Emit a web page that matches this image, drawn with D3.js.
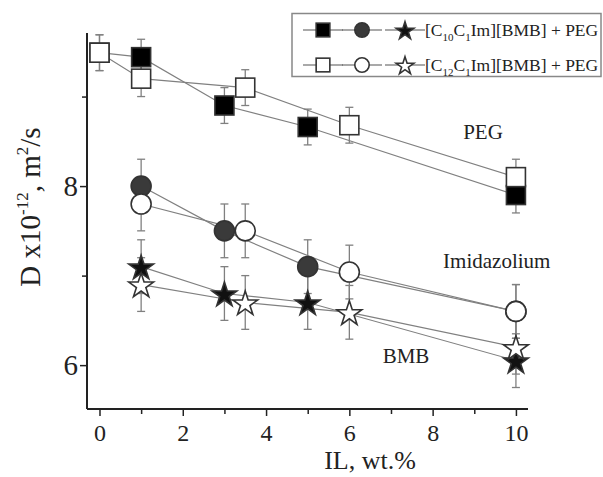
<!DOCTYPE html>
<html><head><meta charset="utf-8">
<script src="https://cdn.jsdelivr.net/npm/d3@7"></script>
<style>body{margin:0;background:#fff}svg{display:block}</style>
</head><body>
<script>
// ---- data ----
const xC10 = [0, 1, 3, 5, 10];
const xC12 = [0, 1, 3.5, 6, 10];
const xIL10 = [1, 3, 5, 10];
const xIL12 = [1, 3.5, 6, 10];
const pegC10 = [9.49, 9.44, 8.9, 8.66, 7.9];
const pegC12 = [9.49, 9.2, 9.1, 8.68, 8.1];
const pegErr = [0.2, 0.2, 0.2, 0.2, 0.2];
const imC10 = [8.0, 7.5, 7.1, 6.6];
const imC12 = [7.8, 7.5, 7.04, 6.6];
const imErr = [0.3, 0.3, 0.3, 0.3];
const bmbC10 = [7.1, 6.8, 6.7, 6.05];
const bmbC12 = [6.9, 6.7, 6.59, 6.2];
const bmbErr = [0.3, 0.3, 0.3, 0.3];
const xTicks = [0, 2, 4, 6, 8, 10];
const xMinor = [1, 3, 5, 7, 9];
const yTicks = [6, 8];
const yMinor = [7, 9];
const groupLabels = [
  {text: "PEG", x: 9.21, y: 8.53},
  {text: "Imidazolium", x: 9.54, y: 7.09},
  {text: "BMB", x: 7.36, y: 6.02}
];
const legendLabels = ["C10", "C12"];

const W = 603, H = 477;
const svg = d3.select("body").append("svg").attr("width", W).attr("height", H)
  .style("font-family", "'Liberation Serif','Times New Roman',serif");

const x = d3.scaleLinear().domain([-0.3, 10.29]).range([87, 528]);
const y = d3.scaleLinear().domain([5.51, 9.71]).range([409, 33]);

// axes
const axColor = "#222";
const gx = svg.append("g").attr("transform", `translate(0,${y(5.51)})`);
gx.call(d3.axisBottom(x).tickValues(xTicks).tickSize(7).tickPadding(8).tickFormat(d3.format("d")));
gx.append("g").call(d3.axisBottom(x).tickValues(xMinor).tickSize(5).tickFormat(""));
gx.selectAll(".domain").attr("stroke", axColor).attr("stroke-width", 2).attr("d", `M${x(-0.3)},0H${x(10.29)}`);
gx.selectAll(".tick line").attr("stroke", axColor).attr("stroke-width", 1.5);
gx.selectAll(".tick text").attr("font-size", 24).attr("fill", "#222").attr("font-family", "'Liberation Serif',serif");
gx.selectAll("g g .domain").remove();

const gy = svg.append("g").attr("transform", `translate(${x(-0.3)},0)`);
gy.call(d3.axisLeft(y).tickValues(yTicks).tickSize(7).tickPadding(2).tickFormat(d3.format("d")));
gy.append("g").call(d3.axisLeft(y).tickValues(yMinor).tickSize(5).tickFormat(""));
gy.selectAll(".domain").attr("stroke", axColor).attr("stroke-width", 2).attr("d", `M0,${y(5.51)}V${y(9.71)}`);
gy.selectAll(".tick line").attr("stroke", axColor).attr("stroke-width", 1.5);
gy.selectAll(".tick text").attr("font-size", 29).attr("fill", "#222").attr("font-family", "'Liberation Serif',serif");
gy.selectAll("g g .domain").remove();

// axis titles
svg.append("text").attr("x", 370).attr("y", 469).attr("text-anchor", "middle")
  .attr("font-size", 26).attr("fill", "#222").text("IL, wt.%");
const yl = svg.append("text").attr("transform", "translate(40,207) rotate(-90)")
  .attr("text-anchor", "middle").attr("font-size", 29).attr("fill", "#222");
yl.append("tspan").text("D x10");
yl.append("tspan").attr("dy", -12).attr("font-size", 17).text("-12");
yl.append("tspan").attr("dy", 12).text(", m");
yl.append("tspan").attr("dy", -12).attr("font-size", 17).text("2");
yl.append("tspan").attr("dy", 12).text("/s");

// series
const series = [
  {xs: xC10, ys: pegC10, err: pegErr, shape: "square", fill: "#000"},
  {xs: xC12, ys: pegC12, err: pegErr, shape: "square", fill: "#fff"},
  {xs: xIL10, ys: imC10, err: imErr, shape: "circle", fill: "#3a3a3a"},
  {xs: xIL12, ys: imC12, err: imErr, shape: "circle", fill: "#fff"},
  {xs: xIL10, ys: bmbC10, err: bmbErr, shape: "star", fill: "#111"},
  {xs: xIL12, ys: bmbC12, err: bmbErr, shape: "star", fill: "#fff"}
];
const line = d3.line().x(d => x(d[0])).y(d => y(d[1]));
const lineColor = "#808080";
series.forEach(s => {
  const pts = s.xs.map((v, i) => [v, s.ys[i], s.err[i]]);
  svg.append("path").attr("d", line(pts)).attr("fill", "none").attr("stroke", lineColor).attr("stroke-width", 1.2);
});
series.forEach(s => {
  const pts = s.xs.map((v, i) => [v, s.ys[i], s.err[i]]);
  const g = svg.append("g").attr("stroke", lineColor).attr("stroke-width", 1.3);
  pts.forEach(p => {
    const cx = x(p[0]);
    g.append("line").attr("x1", cx).attr("x2", cx).attr("y1", y(p[1] - p[2])).attr("y2", y(p[1] + p[2]));
    g.append("line").attr("x1", cx - 4).attr("x2", cx + 4).attr("y1", y(p[1] - p[2])).attr("y2", y(p[1] - p[2]));
    g.append("line").attr("x1", cx - 4).attr("x2", cx + 4).attr("y1", y(p[1] + p[2])).attr("y2", y(p[1] + p[2]));
  });
});
function marker(g, shape, fill, cx, cy, scale) {
  const stroke = "#333", sw = 1.6;
  if (shape === "square") {
    const s = 19 * scale;
    g.append("rect").attr("x", cx - s / 2).attr("y", cy - s / 2).attr("width", s).attr("height", s)
      .attr("fill", fill).attr("stroke", stroke).attr("stroke-width", sw);
  } else if (shape === "circle") {
    g.append("circle").attr("cx", cx).attr("cy", cy).attr("r", 10 * scale)
      .attr("fill", fill).attr("stroke", stroke).attr("stroke-width", sw);
  } else {
    g.append("path").attr("d", d3.symbol(d3.symbolStar, 190 * scale * scale)())
      .attr("transform", `translate(${cx},${cy + 1.5 * scale})`)
      .attr("fill", fill).attr("stroke", stroke).attr("stroke-width", sw);
  }
}
series.forEach(s => {
  const g = svg.append("g");
  s.xs.forEach((v, i) => marker(g, s.shape, s.fill, x(v), y(s.ys[i]), 1));
});

// group labels
groupLabels.forEach(l => {
  svg.append("text").attr("x", x(l.x)).attr("y", y(l.y)).attr("text-anchor", "middle")
    .attr("font-size", 21).attr("fill", "#222").text(l.text);
});

// legend
const lg = svg.append("g");
lg.append("rect").attr("x", 292).attr("y", 13.5).attr("width", 309).attr("height", 63)
  .attr("fill", "#fff").attr("stroke", "#888").attr("stroke-width", 1.5);
const rows = [
  {yy: 30, fills: ["#000", "#3a3a3a", "#111"]},
  {yy: 65, fills: ["#fff", "#fff", "#fff"]}
];
const shapes = ["square", "circle", "star"];
const sx = [323, 362, 405];
rows.forEach((r, ri) => {
  shapes.forEach((sh, k) => {
    lg.append("line").attr("x1", sx[k] - 20).attr("x2", sx[k] + 20).attr("y1", r.yy).attr("y2", r.yy)
      .attr("stroke", "#555").attr("stroke-width", 1.2);
    marker(lg, sh, r.fills[k], sx[k], r.yy, 0.72);
  });
  const t = lg.append("text").attr("x", 425).attr("y", r.yy + 6).attr("font-size", 17.5).attr("fill", "#222");
  t.append("tspan").text("[C");
  t.append("tspan").attr("dy", 5).attr("font-size", 11).text(legendLabels[ri].slice(1));
  t.append("tspan").attr("dy", -5).text("C");
  t.append("tspan").attr("dy", 5).attr("font-size", 11).text("1");
  t.append("tspan").attr("dy", -5).text("Im][BMB] + PEG");
});
</script>
</body></html>
